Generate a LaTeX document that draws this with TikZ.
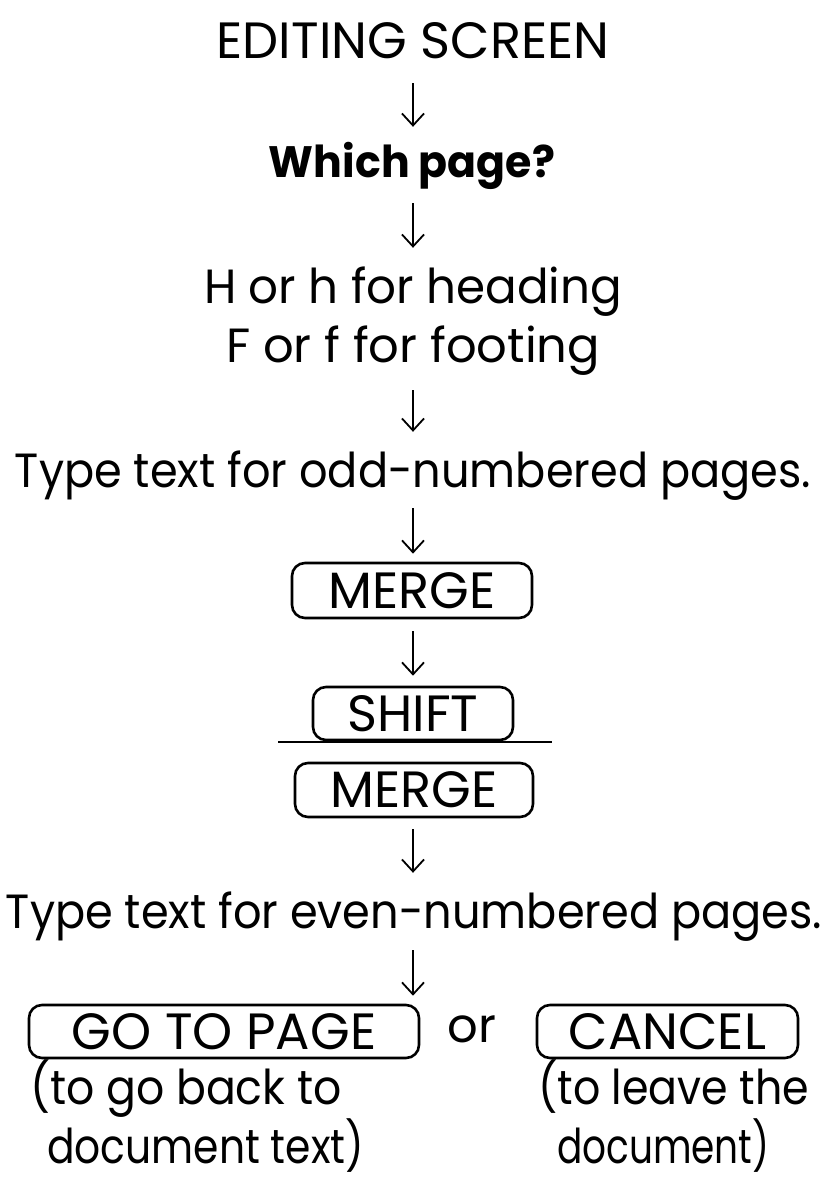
\documentclass[tikz,border=0pt]{standalone}
\usepackage{graphicx}
\usepackage{fontspec}
\setmainfont{Poppins}
\usetikzlibrary{arrows.meta}
\newcommand{\hsq}[2]{\scalebox{#1}[1]{#2}}
\tikzset{
  txt/.style={inner sep=0pt, text height=36pt, text depth=0pt, anchor=base,
    font=\fontsize{48}{58}\selectfont},
  capstxt/.style={txt, font=\fontsize{51}{60}\selectfont},
  keybox/.style={draw, line width=2.6pt, rounded corners=13pt, inner sep=0pt,
    font=\fontsize{51}{60}\selectfont},
  arr/.style={line width=1.8pt, -{Straight Barb[length=12pt,width=22pt,line width=1.8pt]}},
}
\begin{document}
\begin{tikzpicture}[x=1pt,y=-1pt]
\useasboundingbox (0,0) rectangle (821,1179);
\node[capstxt] (es) at (413,58) {EDITING SCREEN};
\node[txt, font=\fontsize{44}{52}\selectfont\bfseries] (wp) at (412,177) {\hsq{0.97}{Which page?}};
\node[txt] (hh) at (413,303) {\hsq{0.975}{H or h for heading}};
\node[txt] (ff) at (413,362) {\hsq{1.0}{F or f for footing}};
\node[txt] (odd) at (413,487) {\hsq{0.93}{Type text for odd-numbered pages.}};
\node[keybox, minimum width=240pt, minimum height=55pt] (m1) at (412,590.5) {MERGE};
\node[keybox, minimum width=200pt, minimum height=53pt] (sh) at (413,713.5) {SHIFT};
\node[keybox, minimum width=238pt, minimum height=54pt] (m2) at (414,790) {MERGE};
\node[txt] (even) at (414,928) {\hsq{0.93}{Type text for even-numbered pages.}};
\node[keybox, minimum width=390pt, minimum height=53pt] (go) at (224,1031.5) {GO TO PAGE};
\node[txt] (or) at (472,1042) {or};
\node[keybox, minimum width=261pt, minimum height=53pt] (ca) at (667.5,1031.5) {CANCEL};
\node[txt, anchor=base west] (g1) at (30,1104) {\hsq{0.92}{(to go back to}};
\node[txt, anchor=base west] (g2) at (47,1163) {\hsq{0.85}{document text)}};
\node[txt, anchor=base west] (c1) at (538,1104) {\hsq{0.89}{(to leave the}};
\node[txt, anchor=base west] (c2) at (557,1163) {\hsq{0.78}{document)}};
\draw[arr, shorten <=25pt, shorten >=14pt] (es.south) -- (es.south |- wp.north);
\draw[arr, shorten <=26pt, shorten >=19pt] (es.south |- wp.south) -- (es.south |- hh.north);
\draw[arr, shorten <=28pt, shorten >=19pt] (es.south |- ff.south) -- (es.south |- odd.north);
\draw[arr, shorten <=21pt, shorten >=8pt] (es.south |- odd.south) -- (es.south |- m1.north);
\draw[arr, shorten <=12pt, shorten >=10pt] (es.south |- m1.south) -- (es.south |- sh.north);
\draw[line width=2pt] (278,742) -- (552,742);
\draw[arr, shorten <=11pt, shorten >=19pt] (es.south |- m2.south) -- (es.south |- even.north);
\draw[arr, shorten <=22pt, shorten >=8pt] (es.south |- even.south) -- (es.south |- go.north);
\end{tikzpicture}
\end{document}
